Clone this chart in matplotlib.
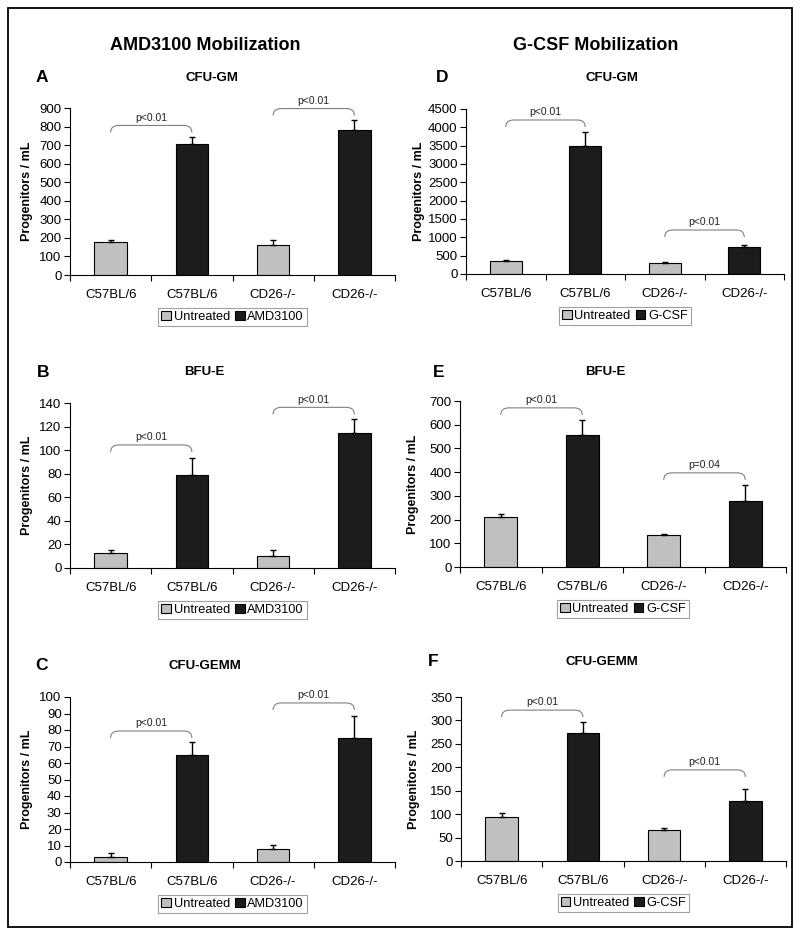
import numpy as np
import matplotlib
matplotlib.use("Agg")
import matplotlib.pyplot as plt
from matplotlib.path import Path
from matplotlib.patches import PathPatch, Rectangle, Patch

plt.rcParams['font.family'] = ['Liberation Sans', 'DejaVu Sans']

W, H = 800, 935

groups = ['C57BL/6', 'C57BL/6', 'CD26-/-', 'CD26-/-']

# bar heights (untreated, treated, untreated, treated) and upper error
cfugm_amd = [177, 705, 163, 779]
cfugm_amd_err = [11, 40, 26, 55]
bfue_amd = [12.4, 78.5, 10.4, 114.8]
bfue_amd_err = [2.6, 14.5, 4.5, 12]
cfugemm_amd = [3.2, 64.8, 7.9, 75.2]
cfugemm_amd_err = [2.3, 8.1, 2.6, 13]

cfugm_gcsf = [355, 3497, 300, 738]
cfugm_gcsf_err = [28, 373, 20, 55]
bfue_gcsf = [210, 557, 133, 280]
bfue_gcsf_err = [14, 61, 7, 64]
cfugemm_gcsf = [94, 273, 66.5, 129]
cfugemm_gcsf_err = [9, 23, 3, 24]

# significance brackets: (from, to, height, label)
sig_a = [(0, 1, 806, 'p<0.01'), (2, 3, 897, 'p<0.01')]
sig_b = [(0, 1, 104.4, 'p<0.01'), (2, 3, 136.3, 'p<0.01')]
sig_c = [(0, 1, 79.4, 'p<0.01'), (2, 3, 96.4, 'p<0.01')]
sig_d = [(0, 1, 4200, 'p<0.01'), (2, 3, 1200, 'p<0.01')]
sig_e = [(0, 1, 671, 'p<0.01'), (2, 3, 397, 'p=0.04')]
sig_f = [(0, 1, 322, 'p<0.01'), (2, 3, 194.5, 'p<0.01')]

GREY = '#c0c0c0'
DARK = '#1c1c1c'

fig = plt.figure(figsize=(W / 100, H / 100), dpi=100)
fig.patches.append(Rectangle((8 / W, 1 - 927 / H), 784 / W, 919 / H,
                             transform=fig.transFigure, fill=False,
                             edgecolor='black', linewidth=1.3))


def px_axes(l, r, t, b):
    return fig.add_axes([l / W, 1 - b / H, (r - l) / W, (b - t) / H])


def panel(box, vals, errs, ymax, step, sigs, treat, letter, subtitle, lx, ly, sx):
    l, r, t, b = box
    ax = px_axes(l, r, t, b)
    x = np.arange(len(vals))
    cols = [GREY, DARK, GREY, DARK]
    ax.bar(x, vals, width=0.4, color=cols, edgecolor='black', linewidth=0.8,
           yerr=[np.zeros(len(errs)), errs], error_kw=dict(ecolor='black', elinewidth=1, capsize=2, capthick=1))
    ax.set_xlim(-0.5, 3.5)
    ax.set_ylim(0, ymax)
    ax.set_yticks(np.arange(0, ymax + step / 2, step))
    ax.set_xticks(x)
    ax.set_xticklabels(groups)
    ax.set_xticks([-0.5, 0.5, 1.5, 2.5, 3.5], minor=True)
    ax.tick_params(axis='x', which='major', length=0, pad=10, labelsize=9.5)
    ax.tick_params(axis='x', which='minor', length=4, width=0.8, direction='out')
    ax.tick_params(axis='y', length=4, width=0.8, direction='out', labelsize=9.5, pad=2)
    for s in ['top', 'right']:
        ax.spines[s].set_visible(False)
    for s in ['left', 'bottom']:
        ax.spines[s].set_linewidth(0.8)

    # brackets
    hpx = b - t
    drop = 7 * ymax / hpx
    rx = 0.1
    for i, j, top, lab in sigs:
        verts = [(i, top - drop), (i, top), (i + rx, top), (j - rx, top),
                 (j, top), (j, top - drop)]
        codes = [Path.MOVETO, Path.CURVE3, Path.CURVE3, Path.LINETO,
                 Path.CURVE3, Path.CURVE3]
        ax.add_patch(PathPatch(Path(verts, codes), fill=False, edgecolor='#808080',
                               linewidth=0.8, clip_on=False))
        ax.annotate(lab, xy=((i + j) / 2, top), xytext=(0, 2), textcoords='offset points',
                    ha='center', va='bottom', fontsize=7.5, color='#222222',
                    annotation_clip=False)

    handles = [Patch(facecolor=GREY, edgecolor='black', linewidth=0.8),
               Patch(facecolor=DARK, edgecolor='black', linewidth=0.8)]
    leg = ax.legend(handles, ['Untreated', treat], ncol=2, loc='center',
                    bbox_to_anchor=(0.5, -42 / hpx), fontsize=9.2, frameon=True,
                    fancybox=False, handlelength=0.75, handleheight=0.75,
                    handletextpad=0.2, columnspacing=0.4, borderpad=0.25,
                    borderaxespad=0)
    leg.get_frame().set_edgecolor('#888888')
    leg.get_frame().set_linewidth(0.8)

    fig.text(lx / W, 1 - ly / H, letter, fontsize=12.5, fontweight='bold', ha='center', va='center')
    fig.text(sx / W, 1 - ly / H, subtitle, fontsize=9.5, fontweight='bold', ha='center', va='center')
    ylx = l - 43 if l < 200 else l - 47
    fig.text(ylx / W, 1 - (t + b) / 2 / H, 'Progenitors / mL', rotation=90,
             fontsize=9, fontweight='bold', ha='center', va='center')
    return ax


panel((70, 395, 108, 275), cfugm_amd, cfugm_amd_err, 900, 100, sig_a, 'AMD3100', 'A', 'CFU-GM', 42, 78, 212)
panel((70, 395, 403, 568), bfue_amd, bfue_amd_err, 140, 20, sig_b, 'AMD3100', 'B', 'BFU-E', 43, 372, 204)
panel((70, 395, 697, 862), cfugemm_amd, cfugemm_amd_err, 100, 10, sig_c, 'AMD3100', 'C', 'CFU-GEMM', 42, 666, 205)
panel((466, 784, 109, 274), cfugm_gcsf, cfugm_gcsf_err, 4500, 500, sig_d, 'G-CSF', 'D', 'CFU-GM', 442, 78, 612)
panel((460, 786, 401, 567), bfue_gcsf, bfue_gcsf_err, 700, 100, sig_e, 'G-CSF', 'E', 'BFU-E', 439, 372, 605)
panel((461, 786, 697, 861), cfugemm_gcsf, cfugemm_gcsf_err, 350, 50, sig_f, 'G-CSF', 'F', 'CFU-GEMM', 433, 662, 602)

fig.text(205 / W, 1 - 45 / H, 'AMD3100 Mobilization', fontsize=13, fontweight='bold', ha='center', va='center')
fig.text(596 / W, 1 - 45 / H, 'G-CSF Mobilization', fontsize=13, fontweight='bold', ha='center', va='center')

fig.savefig('out.png', dpi=100)
